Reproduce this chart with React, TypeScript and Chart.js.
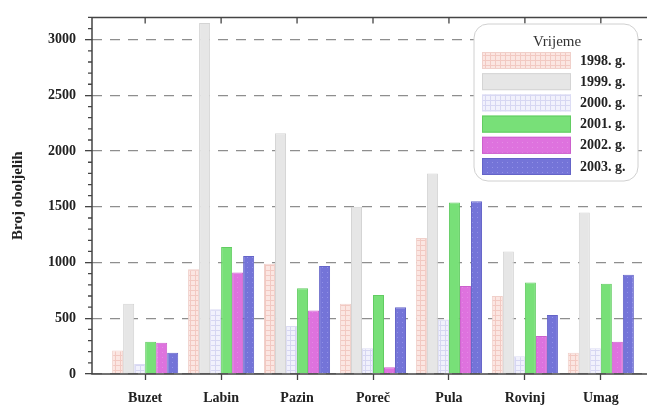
import React, { useEffect, useRef } from 'react';
import { Chart, registerables } from 'chart.js';
Chart.register(...registerables);

const categories = ['Buzet', 'Labin', 'Pazin', 'Poreč', 'Pula', 'Rovinj', 'Umag'];
const seriesLabels = ['1998. g.', '1999. g.', '2000. g.', '2001. g.', '2002. g.', '2003. g.'];
const v1998 = [210, 940, 990, 630, 1220, 700, 190];
const v1999 = [630, 3150, 2160, 1500, 1800, 1100, 1450];
const v2000 = [90, 580, 430, 230, 490, 160, 230];
const v2001 = [290, 1140, 770, 710, 1540, 820, 810];
const v2002 = [280, 910, 570, 60, 790, 340, 290];
const v2003 = [190, 1060, 970, 600, 1550, 530, 890];
const yTicks = [0, 500, 1000, 1500, 2000, 2500, 3000];
const yMax = 3200;
const minorStep = 100;
const yTitle = 'Broj oboljelih';
const legendTitle = 'Vrijeme';

const FONT = "'Liberation Serif', 'DejaVu Serif', serif";

function makePattern(base: string, line: string, kind: string) {
  const c = document.createElement('canvas');
  c.width = 5;
  c.height = 5;
  const g = c.getContext('2d')!;
  g.fillStyle = base;
  g.fillRect(0, 0, 5, 5);
  g.fillStyle = line;
  if (kind === 'grid') {
    g.fillRect(0, 0, 5, 1);
    g.fillRect(0, 0, 1, 5);
  } else if (kind === 'dots') {
    g.fillRect(2, 2, 1, 1);
  }
  return g.createPattern(c, 'repeat')!;
}

export default function App() {
  const ref = useRef<HTMLCanvasElement>(null);
  useEffect(() => {
    document.body.style.overflow = 'hidden';
    const canvas = ref.current!;
    const fills = [
      makePattern('#fbe6e2', '#f2c9c2', 'grid'),
      '#e6e6e6',
      makePattern('#f1f1fc', '#d6d6f2', 'grid'),
      '#78e078',
      makePattern('#de72de', '#e48ae4', 'dots'),
      makePattern('#7474d8', '#9292e6', 'dots'),
    ];
    const borders = ['#f0d0ca', '#d4d4d4', '#dcdcf4', '#62cc62', '#cc60cc', '#6464c8'];
    const series = [v1998, v1999, v2000, v2001, v2002, v2003];

    const framePlugin = {
      id: 'frame',
      afterDatasetsDraw(chart: any) {
        const { ctx, chartArea: a, scales } = chart;
        ctx.save();
        ctx.strokeStyle = '#444';
        ctx.lineWidth = 1.5;
        ctx.beginPath();
        ctx.moveTo(a.left, a.top);
        ctx.lineTo(a.left, a.bottom);
        ctx.lineTo(a.right, a.bottom);
        ctx.moveTo(a.left, a.top);
        ctx.lineTo(a.right, a.top);
        ctx.stroke();
        ctx.lineWidth = 1.3;
        ctx.beginPath();
        categories.forEach((_, i) => {
          const x = scales.x.getPixelForValue(i);
          ctx.moveTo(x, a.top);
          ctx.lineTo(x, a.top + 6);
        });
        for (let v = 0; v <= yMax; v += minorStep) {
          if (v % 500 === 0) continue;
          const y = scales.y.getPixelForValue(v);
          ctx.moveTo(a.left - 4, y);
          ctx.lineTo(a.left, y);
        }
        ctx.stroke();
        ctx.restore();
      },
    };

    const legendPlugin = {
      id: 'boxLegend',
      afterDraw(chart: any) {
        const { ctx } = chart;
        const bx = 474, by = 24, bw = 164, bh = 157;
        ctx.save();
        ctx.fillStyle = '#ffffff';
        ctx.strokeStyle = '#d0d0d0';
        ctx.lineWidth = 1;
        ctx.beginPath();
        (ctx as any).roundRect(bx, by, bw, bh, 14);
        ctx.fill();
        ctx.stroke();
        ctx.fillStyle = '#333';
        ctx.font = `15px ${FONT}`;
        ctx.textAlign = 'center';
        ctx.textBaseline = 'middle';
        ctx.fillText(legendTitle, 557, 42);
        chart.data.datasets.forEach((ds: any, i: number) => {
          const y = 52 + i * 21.2;
          ctx.fillStyle = ds.backgroundColor;
          ctx.fillRect(482, y, 89, 17);
          ctx.strokeStyle = ds.borderColor;
          ctx.strokeRect(482.5, y + 0.5, 88, 16);
          ctx.fillStyle = '#222';
          ctx.font = `bold 14px ${FONT}`;
          ctx.textAlign = 'left';
          ctx.fillText(ds.label, 580, y + 9);
        });
        ctx.restore();
      },
    };

    const chart = new Chart(canvas, {
      type: 'bar',
      data: {
        datasets: series.map((vals, s) => ({
          label: seriesLabels[s],
          data: vals.map((v, i) => ({ x: i, y: v })),
          backgroundColor: fills[s] as any,
          borderColor: borders[s],
          borderWidth: 1,
          categoryPercentage: 0.87,
          barPercentage: 1,
        })),
      },
      options: {
        responsive: false,
        animation: false,
        layout: { padding: { left: 0, top: 11, right: 46, bottom: 0 } },
        plugins: { legend: { display: false }, tooltip: { enabled: false } },
        scales: {
          x: {
            type: 'linear',
            min: -0.7,
            max: 6.7,
            offset: false,
            afterBuildTicks: (s: any) => {
              s.ticks = categories.map((_, i) => ({ value: i }));
            },
            afterFit: (s: any) => {
              s.height = 32;
            },
            ticks: {
              autoSkip: false,
              maxRotation: 0,
              padding: 10,
              color: '#222',
              font: { family: FONT, size: 14, weight: 'bold' },
              callback: (v: any) => categories[v] ?? '',
            },
            grid: {
              offset: false,
              drawOnChartArea: false,
              drawTicks: true,
              tickLength: 6,
              tickColor: '#444',
              tickWidth: 1.3,
              color: '#444',
            },
            border: { display: false },
          },
          y: {
            min: 0,
            max: yMax,
            afterBuildTicks: (s: any) => {
              s.ticks = yTicks.map((v) => ({ value: v }));
            },
            afterFit: (s: any) => {
              s.width = 92;
            },
            ticks: {
              padding: 9,
              color: '#222',
              font: { family: FONT, size: 14, weight: 'bold' },
              callback: (v: any) => String(v),
            },
            grid: {
              color: '#8e8e8e',
              lineWidth: 1.3,
              tickLength: 7,
              tickColor: '#444',
              tickWidth: 1.3,
              tickBorderDash: [],
            },
            border: { display: false, dash: [10, 8] },
            title: {
              display: true,
              text: yTitle,
              color: '#222',
              font: { family: FONT, size: 15, weight: 'bold' },
              padding: { top: 9, bottom: 0 },
            },
          },
        },
      } as any,
      plugins: [framePlugin, legendPlugin],
    });
    return () => chart.destroy();
  }, []);

  return (
    <div style={{ position: 'fixed', left: 0, top: 0, width: 700, height: 406, background: '#fff' }}>
      <canvas ref={ref} width={700} height={406} style={{ display: 'block', width: 700, height: 406 }} />
    </div>
  );
}
